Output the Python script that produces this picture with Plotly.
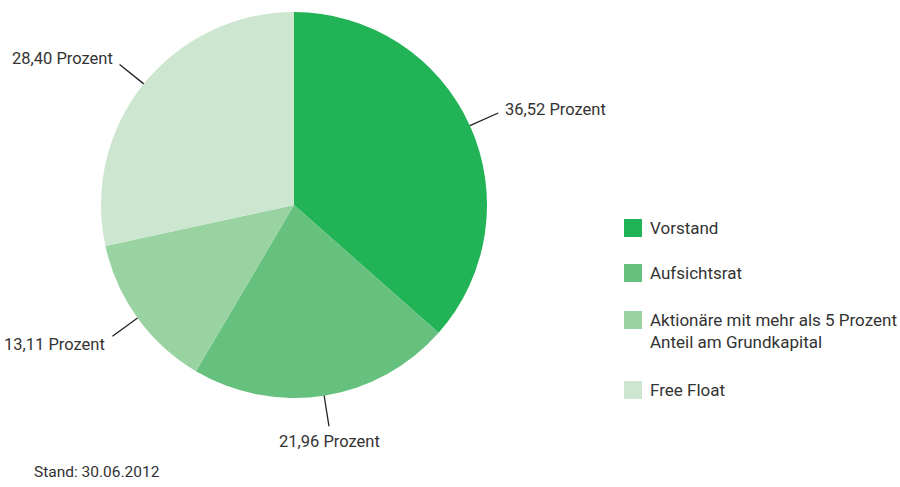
import math
import plotly.graph_objects as go

categories = ["Vorstand", "Aufsichtsrat", "Aktionäre mit mehr als 5 Prozent<br>Anteil am Grundkapital", "Free Float"]
values = [36.52, 21.96, 13.11, 28.40]
value_labels = ["36,52 Prozent", "21,96 Prozent", "13,11 Prozent", "28,40 Prozent"]
colors = ["#22b357", "#66c07e", "#99d3a2", "#cce6cf"]
footnote = "Stand: 30.06.2012"

W, H = 900, 487
CX, CY, R = 294, 205, 193
FONT = "Roboto, sans-serif"
TXT = "#333333"

fig = go.Figure(go.Pie(
    labels=[c.replace("<br>", " ") for c in categories], values=values, sort=False,
    direction="clockwise", rotation=0,
    marker=dict(colors=colors, line=dict(width=0)),
    textinfo="none", hoverinfo="label+value", showlegend=False,
    domain=dict(x=[(CX - R) / W, (CX + R) / W], y=[1 - (CY + R) / H, 1 - (CY - R) / H]),
))

def px(x, y):
    return x / W, 1 - y / H

shapes, annotations = [], []
total = sum(values)
cum = 0
for v, lab in zip(values, value_labels):
    mid = math.radians((cum + v / 2) / total * 360)
    cum += v
    x0, y0 = CX + R * math.sin(mid), CY - R * math.cos(mid)
    r2 = R + 31
    x1, y1 = CX + r2 * math.sin(mid), CY - r2 * math.cos(mid)
    a, b = px(x0, y0)
    c, d = px(x1, y1)
    shapes.append(dict(type="line", xref="paper", yref="paper", x0=a, y0=b, x1=c, y1=d,
                       line=dict(color="#222222", width=1.3)))
    s = math.sin(mid)
    if abs(s) < 0.3:
        ax, ay, xa, ya = x1 + 1, y1 + 4, "center", "top"
    elif s > 0:
        ax, ay, xa, ya = x1 + 5, y1 - 3, "left", "middle"
    else:
        ax, ay, xa, ya = x1 - 5, y1 + (-6 if math.cos(mid) > 0 else 8), "right", "middle"
    tx, ty = px(ax, ay)
    annotations.append(dict(text=lab, x=tx, y=ty, xref="paper", yref="paper",
                            xanchor=xa, yanchor=ya, showarrow=False,
                            font=dict(family=FONT, size=16.5, color=TXT)))

# legend
ly = [228, 273, 320, 390]
for cat, col, yy in zip(categories, colors, ly):
    a, b = px(624, yy - 9)
    c, d = px(642, yy + 9)
    shapes.append(dict(type="rect", xref="paper", yref="paper", x0=a, y0=b, x1=c, y1=d,
                       fillcolor=col, line=dict(width=0)))
    tx, ty = px(648, yy - 12)
    annotations.append(dict(text=cat, x=tx, y=ty, xref="paper", yref="paper",
                            xanchor="left", yanchor="top", align="left", showarrow=False,
                            font=dict(family=FONT, size=17, color=TXT)))

tx, ty = px(32, 472)
annotations.append(dict(text=footnote, x=tx, y=ty, xref="paper", yref="paper",
                        xanchor="left", yanchor="middle", showarrow=False,
                        font=dict(family=FONT, size=15.5, color=TXT)))

fig.update_layout(width=W, height=H, margin=dict(l=0, r=0, t=0, b=0),
                  paper_bgcolor="white", plot_bgcolor="white",
                  shapes=shapes, annotations=annotations)
fig.write_html("out.html", config={"displayModeBar": False},
               post_script="document.body.style.margin='0';document.body.style.padding='0';")
